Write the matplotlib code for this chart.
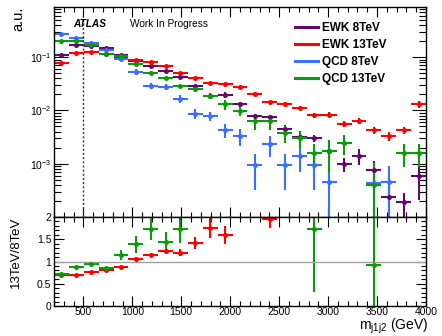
import numpy as np
import matplotlib
matplotlib.use('Agg')
import matplotlib.pyplot as plt
from matplotlib.ticker import MultipleLocator, LogLocator, FuncFormatter, NullFormatter
from matplotlib.lines import Line2D

plt.rcParams['font.family'] = ['Liberation Sans', 'DejaVu Sans']
plt.rcParams['mathtext.fontset'] = 'custom'
plt.rcParams['mathtext.rm'] = 'Liberation Sans'
plt.rcParams['mathtext.it'] = 'Liberation Sans:italic'

# binning: 25 bins of m_j1j2 between 200 and 4000 GeV
edges = np.linspace(200, 4000, 26)
centers = 0.5 * (edges[1:] + edges[:-1])
half_w = 0.5 * (edges[1:] - edges[:-1])
nan = np.nan

# normalised distributions (a.u.)
ewk8 = [0.110, 0.170, 0.160, 0.145, 0.110, 0.084, 0.0692, 0.054, 0.0416, 0.0281,
        0.0185, 0.0196, 0.0131, 0.00787, 0.00738, 0.00448, 0.00312, 0.00303, 0.00175, 0.00099,
        0.00142, 0.000778, 0.000233, 0.000192, 0.000594]
ewk13 = [0.0763, 0.119, 0.123, 0.116, 0.096, 0.0886, 0.0798, 0.067, 0.0499, 0.0398,
         0.0326, 0.0312, 0.0269, 0.0207, 0.0144, 0.0134, 0.0110, 0.00805, 0.00834, 0.00564,
         0.00634, 0.00423, 0.00333, 0.00423, 0.0131]
qcd8 = [0.274, 0.228, 0.182, 0.137, 0.0906, 0.0532, 0.029, 0.0277, 0.0167, 0.0087,
        0.00787, 0.00428, 0.0033, 0.00093, 0.0023, 0.00093, 0.00142, 0.00093, 0.000454, nan,
        nan, 0.000443, 0.000454, nan, nan]
qcd13 = [0.1986, 0.1986, 0.170, 0.1164, 0.1044, 0.0738, 0.0504, 0.0398, 0.029, 0.0251,
         0.0188, 0.0129, 0.0098, 0.0062, 0.0062, 0.00381, 0.00298, 0.0016, 0.00175, 0.00247,
         nan, 0.000405, nan, 0.0016, 0.0016]

# relative stat. uncertainties
ewk8_rel = [0.02, 0.02, 0.02, 0.03, 0.03, 0.03, 0.03, 0.04, 0.05, 0.08,
            0.12, 0.11, 0.1, 0.1, 0.08, 0.2, 0.15, 0.15, 0.2, 0.3,
            0.34, 0.45, 0.6, 0.5, 0.65]
ewk13_rel = [0.02, 0.02, 0.02, 0.02, 0.02, 0.02, 0.03, 0.03, 0.04, 0.05,
             0.06, 0.06, 0.06, 0.06, 0.06, 0.07, 0.08, 0.09, 0.1, 0.12,
             0.12, 0.14, 0.2, 0.14, 0.14]
qcd8_rel = [0.02, 0.02, 0.03, 0.03, 0.08, 0.12, 0.13, 0.14, 0.16, 0.2,
            0.2, 0.3, 0.35, 0.66, 0.43, 0.66, 0.5, 0.66, 1.0, nan,
            nan, 1.0, 1.0, nan, nan]
qcd13_rel = [0.02, 0.02, 0.02, 0.03, 0.05, 0.07, 0.08, 0.08, 0.08, 0.1,
             0.12, 0.2, 0.2, 0.3, 0.3, 0.35, 0.35, 0.48, 0.6, 0.4,
             nan, 1.5, nan, 0.46, 0.46]

c_ewk8 = '#620a6c'
c_ewk13 = '#ff0000'
c_qcd8 = '#3c6eff'
c_qcd13 = '#0a9a0a'

series = [('EWK 8TeV', ewk8, ewk8_rel, c_ewk8),
          ('EWK 13TeV', ewk13, ewk13_rel, c_ewk13),
          ('QCD 8TeV', qcd8, qcd8_rel, c_qcd8),
          ('QCD 13TeV', qcd13, qcd13_rel, c_qcd13)]

fig = plt.figure(figsize=(4.42, 3.36), dpi=100)
ax = fig.add_axes([54/442, 119/336, 372/442, 210/336])
axr = fig.add_axes([54/442, 30/336, 372/442, 89/336], sharex=ax)

pt = dict(fmt='o', ms=3.6, elinewidth=1.5, capsize=0, mew=0)
for name, v, rel, col in series:
    v = np.array(v)
    e = v * np.array(rel)
    ax.errorbar(centers, v, yerr=e, xerr=half_w, color=col, **pt)

ax.set_yscale('log')
ax.set_xlim(200, 4000)
ax.set_ylim(1e-4, 0.87)
ax.vlines(500, 1e-4, 0.58, colors='#333333', linestyles=(0, (1.5, 1.5)), lw=1)

ax.text(19/372, 1 - 17/210, 'ATLAS', transform=ax.transAxes, fontsize=7.3,
        fontweight='bold', style='italic', va='center')
ax.text(76/372, 1 - 17/210, 'Work In Progress', transform=ax.transAxes,
        fontsize=7.3, va='center')

handles = [Line2D([], [], color=col, lw=2.2) for _, _, _, col in series]
ax.legend(handles, [s[0] for s in series], loc='upper left', frameon=False,
          bbox_to_anchor=(241/372, 1 - 15/210), handlelength=1.95,
          handletextpad=0.35, labelspacing=0.42, borderaxespad=0, borderpad=0,
          prop={'weight': 'bold', 'size': 8.5})

# ratio 13 TeV / 8 TeV
r_top = 2.0
pairs = [(ewk13, ewk8, ewk13_rel, ewk8_rel, c_ewk13),
         (qcd13, qcd8, qcd13_rel, qcd8_rel, c_qcd13)]
for num, den, rn, rd, col in pairs:
    r = np.array(num) / np.array(den)
    er = r * np.sqrt(np.array(rn)**2 + np.array(rd)**2)
    show = r <= r_top
    axr.errorbar(centers[show], r[show], yerr=er[show], xerr=half_w[show], color=col, **pt)
axr.axhline(1, color='#a0a0a0', lw=1)
axr.set_ylim(0, r_top)

for a in (ax, axr):
    a.tick_params(which='both', direction='in', top=True, right=True, labelsize=7.5,
                  colors='black', width=0.8, pad=2)
    a.xaxis.set_major_locator(MultipleLocator(500))
    a.xaxis.set_minor_locator(MultipleLocator(100))
    for s in a.spines.values():
        s.set_linewidth(1)

ax.tick_params(axis='x', which='major', length=7)
ax.tick_params(axis='x', which='minor', length=3.5)
ax.tick_params(axis='y', which='major', length=10)
ax.tick_params(axis='y', which='minor', length=5)
ax.yaxis.set_major_locator(LogLocator(base=10, numticks=10))
ax.yaxis.set_minor_locator(LogLocator(base=10, subs=np.arange(2, 10), numticks=10))
ax.yaxis.set_minor_formatter(NullFormatter())
ax.yaxis.set_major_formatter(FuncFormatter(
    lambda y, p: '' if y < 5e-4 or y > 0.9 else r'10$^{%d}$' % round(np.log10(y))))
plt.setp(ax.get_xticklabels(), visible=False)

axr.yaxis.set_major_locator(MultipleLocator(0.5))
axr.yaxis.set_minor_locator(MultipleLocator(0.1))
axr.yaxis.set_major_formatter(FuncFormatter(lambda y, p: '%g' % y))
axr.tick_params(axis='x', which='major', length=7, pad=1)
axr.tick_params(axis='x', which='minor', length=3.5)
axr.tick_params(axis='y', which='major', length=7)
axr.tick_params(axis='y', which='minor', length=3.5)

fig.text(18/442, 1 - 19/336, 'a.u.', rotation=90, ha='center', va='center', fontsize=10.5)
fig.text(16/442, 1 - 252/336, '13TeV/8TeV', rotation=90, ha='center', va='center', fontsize=9.5)
fig.text(428/442, 1 - 326/336, r'm$_{\rm j1j2}$ (GeV)', ha='right', va='center', fontsize=10)

fig.savefig('out.png', dpi=100)
